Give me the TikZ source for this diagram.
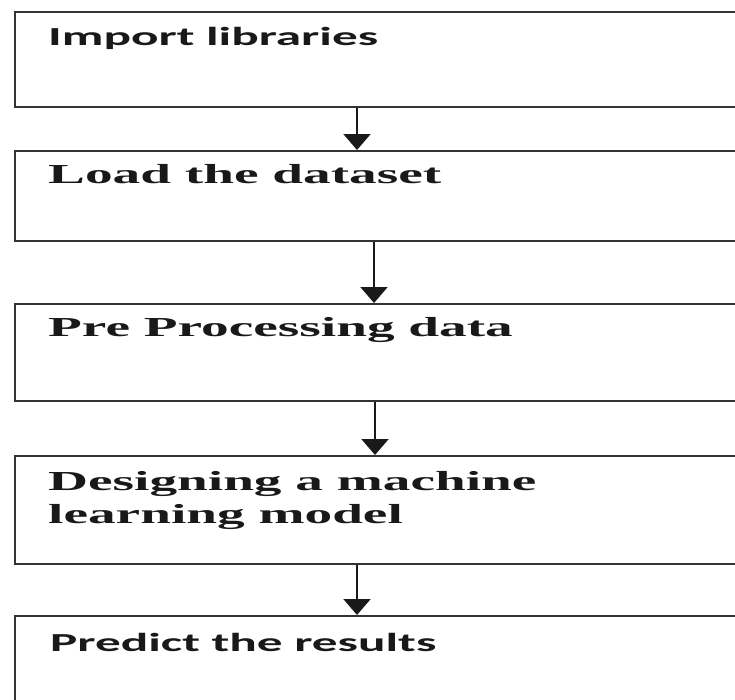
\documentclass[tikz,border=0pt]{standalone}
\usepackage{fontspec}
\setmainfont{Liberation Serif}
\newfontfamily\calfont{Carlito}
\usetikzlibrary{arrows.meta,calc}
\tikzset{
  stepbox/.style={draw=black!80, line width=2.4pt, rectangle, anchor=north west,
    minimum width=735pt, inner sep=0pt},
  serifl/.style={anchor=base west, inner sep=0pt, text=black!90,
    font=\fontsize{27.5}{33}\selectfont\bfseries},
  sansl/.style={anchor=base west, inner sep=0pt, text=black!90,
    font=\calfont\fontsize{26}{32}\selectfont\bfseries},
  flow/.style={draw=black!90, line width=2pt,
    -{Triangle[width=27pt,length=16pt]}}
}
\begin{document}
\begin{tikzpicture}[x=1pt,y=1pt]
\useasboundingbox (0,0) rectangle (735,-699);

% process boxes, running off the right edge
\node[stepbox, minimum height=95pt]  (b1) at (14,-11)  {};
\node[stepbox, minimum height=90pt]  (b2) at (14,-150) {};
\node[stepbox, minimum height=97pt]  (b3) at (14,-303) {};
\node[stepbox, minimum height=108pt] (b4) at (14,-455) {};
\node[stepbox, minimum height=100pt] (b5) at (14,-615) {};

% step labels
\node[sansl]  (t1) at ($(b1.north west)+(34,-34)$)  {\scalebox{1.97}[1]{Import libraries}};
\node[serifl] (t2) at ($(b2.north west)+(34,-33)$)  {\scalebox{2.01}[1]{Load the dataset}};
\node[serifl] (t3) at ($(b3.north west)+(34,-33)$)  {\scalebox{2.01}[1]{Pre Processing data}};
\node[serifl] (t4) at ($(b4.north west)+(34,-68)$)
  {\scalebox{2.01}[1]{\vbox{\baselineskip=33pt\hbox{Designing a machine}\hbox{learning model}}}};
\node[sansl]  (t5) at ($(b5.north west)+(36,-36)$)  {\scalebox{1.97}[1]{Predict the results}};

% connectors
\draw[flow] ($(b1.south west)+(343,0)$) -- ($(b2.north west)+(343,0)$);
\draw[flow] ($(b2.south west)+(360,0)$) -- ($(b3.north west)+(360,0)$);
\draw[flow] ($(b3.south west)+(361,0)$) -- ($(b4.north west)+(361,0)$);
\draw[flow] ($(b4.south west)+(343,0)$) -- ($(b5.north west)+(343,0)$);
\end{tikzpicture}
\end{document}
